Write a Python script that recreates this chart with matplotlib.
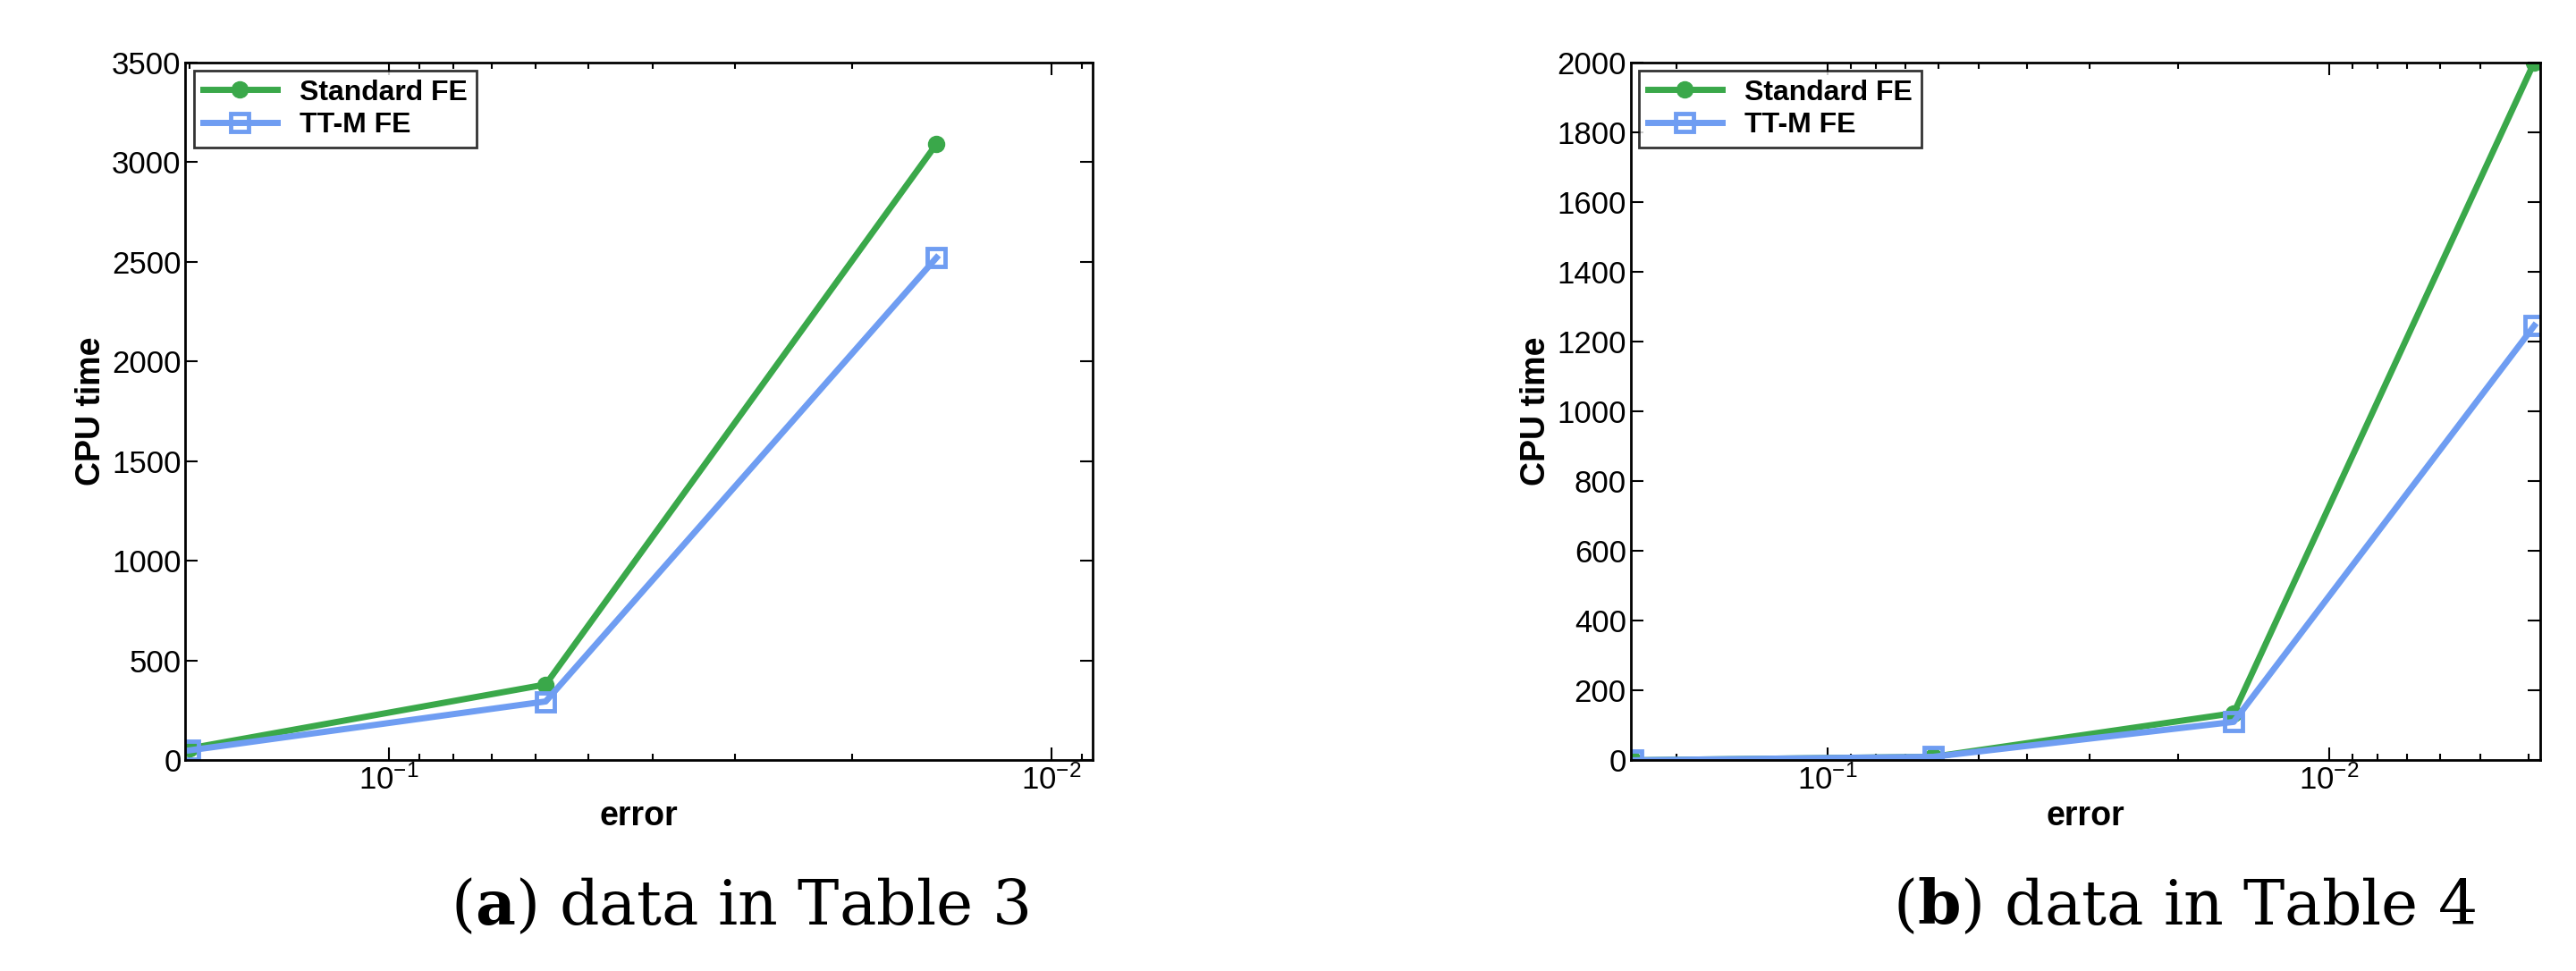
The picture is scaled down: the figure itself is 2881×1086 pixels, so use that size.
import matplotlib
matplotlib.use('Agg')
from matplotlib import pyplot as plt

# panel (a): data in Table 3
err_a = [0.2, 0.058, 0.0149]
std_a = [60, 380, 3090]
ttm_a = [50, 295, 2520]

# panel (b): data in Table 4
err_b = [0.245, 0.0616, 0.0155, 0.0039]
std_b = [0, 10, 135, 2000]
ttm_b = [0, 10, 110, 1245]

green = '#3aa84a'
blue = '#6f9df2'

plt.rcParams['font.family'] = ['Liberation Sans', 'DejaVu Sans']

fig = plt.figure(figsize=(28.81, 10.86), dpi=100)


def panel(rect, err, s, t, xlim, ylim, ystep, caption, letter, cx):
    ax = fig.add_axes(rect)
    ax.plot(err, s, '-o', color=green, lw=5, ms=13, label='Standard FE')
    ax.plot(err, t, '-s', color=blue, lw=5, ms=15, mfc='none', mew=3.5, label='TT-M FE')
    ax.set_xscale('log')
    ax.set_xlim(*xlim)
    ax.set_ylim(*ylim)
    ax.set_yticks(range(ylim[0], ylim[1] + 1, ystep))
    ax.tick_params(which='both', direction='in', top=True, right=True, labelsize=25, length=10, width=1.5)
    ax.tick_params(which='minor', length=5)
    for sp in ax.spines.values():
        sp.set_linewidth(2)
    ax.set_xlabel('error', fontsize=27, fontweight='bold')
    ax.set_ylabel('CPU time', fontsize=27, fontweight='bold')
    leg = ax.legend(loc='upper left', prop={'weight': 'bold', 'size': 23},
                    fancybox=False, edgecolor='black', borderaxespad=0.3, handlelength=2.6,
                    borderpad=0.3, labelspacing=0.2)
    leg.get_frame().set_linewidth(2)
    fig.text(cx, 0.066, r'($\mathbf{' + letter + '}$) ' + caption, ha='center', va='center',
             fontsize=50, family='DejaVu Serif', math_fontfamily='dejavuserif')
    return ax


panel([0.072, 0.217, 0.352, 0.719], err_a, std_a, ttm_a, (0.203, 0.00867), (0, 3500), 500,
      'data in Table 3', 'a', 0.287)
panel([0.633, 0.217, 0.353, 0.719], err_b, std_b, ttm_b, (0.247, 0.0038), (0, 2000), 200,
      'data in Table 4', 'b', 0.848)

fig.savefig('out.png', dpi=100)
